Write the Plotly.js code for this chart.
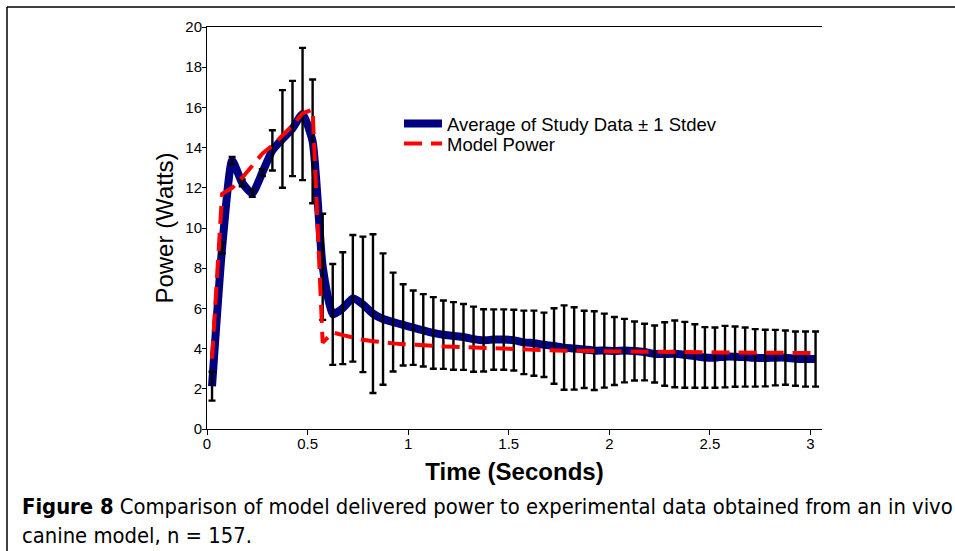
<!DOCTYPE html>
<html>
<head>
<meta charset="utf-8">
<script src="https://cdn.plot.ly/plotly-3.0.1.min.js"></script>
<style>
  html, body { margin: 0; padding: 0; background: #fff; }
  #chart { width: 955px; height: 551px; }
</style>
</head>
<body>
<div id="chart"></div>
<script>
// Time (seconds) of each sample
const timeSec = [0.025, 0.075, 0.125, 0.175, 0.225, 0.275, 0.325, 0.375, 0.425, 0.475,
  0.525, 0.575, 0.625, 0.675, 0.725, 0.775, 0.825, 0.875, 0.925, 0.975,
  1.025, 1.075, 1.125, 1.175, 1.225, 1.275, 1.325, 1.375, 1.425, 1.475,
  1.525, 1.575, 1.625, 1.675, 1.725, 1.775, 1.825, 1.875, 1.925, 1.975,
  2.025, 2.075, 2.125, 2.175, 2.225, 2.275, 2.325, 2.375, 2.425, 2.475,
  2.525, 2.575, 2.625, 2.675, 2.725, 2.775, 2.825, 2.875, 2.925, 2.975, 3.025];

// Average of study data (Watts)
const studyMean = [2.13, 9.0, 13.36, 12.25, 11.72, 12.76, 13.86, 14.43, 14.95, 15.67,
  14.31, 8.07, 5.70, 6.01, 6.50, 6.20, 5.74, 5.47, 5.32, 5.18,
  5.04, 4.91, 4.78, 4.69, 4.63, 4.58, 4.47, 4.41, 4.45, 4.45,
  4.42, 4.31, 4.27, 4.19, 4.13, 4.05, 4.01, 3.96, 3.90, 3.90,
  3.88, 3.90, 3.88, 3.83, 3.73, 3.73, 3.74, 3.69, 3.63, 3.56,
  3.55, 3.60, 3.60, 3.58, 3.54, 3.53, 3.55, 3.55, 3.50, 3.48, 3.48];

// ± 1 standard deviation (Watts)
const studyStdev = [0.72, 0.27, 0.18, 0.17, 0.17, 0.17, 1.00, 2.43, 2.37, 3.29,
  3.08, 2.64, 2.51, 2.78, 3.15, 3.37, 3.95, 3.27, 2.46, 2.02,
  1.85, 1.80, 1.78, 1.70, 1.68, 1.64, 1.62, 1.55, 1.50, 1.50,
  1.51, 1.58, 1.62, 1.60, 1.88, 2.10, 2.05, 1.92, 1.96, 1.84,
  1.69, 1.58, 1.47, 1.41, 1.42, 1.58, 1.66, 1.64, 1.58, 1.51,
  1.50, 1.53, 1.50, 1.47, 1.43, 1.41, 1.38, 1.35, 1.35, 1.37, 1.37];

// Model power (Watts)
const modelPower = [3.50, 11.70, 12.00, 12.50, 13.10, 13.70, 14.10, 14.60, 15.10, 15.70,
  15.90, 4.30, 4.80, 4.67, 4.54, 4.44, 4.37, 4.30, 4.26, 4.22,
  4.18, 4.16, 4.14, 4.11, 4.09, 4.07, 4.05, 4.02, 3.99, 3.99,
  3.96, 3.93, 3.92, 3.91, 3.89, 3.89, 3.89, 3.87, 3.86, 3.86,
  3.86, 3.86, 3.86, 3.86, 3.86, 3.84, 3.83, 3.83, 3.83, 3.82,
  3.81, 3.81, 3.81, 3.79, 3.78, 3.78, 3.78, 3.78, 3.78, 3.78, 3.78];

const seriesNames = ['Average of Study Data \u00b1 1 Stdev', 'Model Power'];
const xTitle = 'Time (Seconds)';
const yTitle = 'Power (Watts)';
const captionLine1 = '<b>Figure 8</b> Comparison of model delivered power to experimental data obtained from an in vivo';
const captionLine2 = 'canine model, n = 157.';

const FONT = 'Liberation Sans, Arial, sans-serif';
const CAP_FONT = 'Liberation Sans Narrow, DejaVu Sans Condensed, Open Sans, sans-serif';

const traces = [
  {
    x: timeSec, y: studyMean, type: 'scatter', mode: 'lines',
    name: seriesNames[0], legend: 'legend',
    line: { color: '#000080', width: 8, shape: 'spline', smoothing: 0.5 },
    hoverinfo: 'skip'
  },
  {
    x: timeSec, y: studyMean, type: 'scatter', mode: 'markers',
    showlegend: false,
    marker: { size: 1, opacity: 0 },
    error_y: { type: 'data', array: studyStdev, visible: true, color: '#000000', thickness: 2.4, width: 3.5 },
    hoverinfo: 'skip'
  },
  {
    x: timeSec, y: modelPower, type: 'scatter', mode: 'lines',
    name: seriesNames[1], legend: 'legend2',
    line: { color: '#ff0000', width: 4, dash: '18px,9px' },
    hoverinfo: 'skip'
  }
];

// plot area pixels: left 207, right 822, top 27, bottom 429
const L = 207, R = 822, T = 27, B = 429, W = 955, H = 551;
const px = v => (v - L) / (R - L);
const py = v => (B - v) / (B - T);

const legendBase = {
  xanchor: 'left', yanchor: 'top',
  bgcolor: 'rgba(0,0,0,0)', borderwidth: 0,
  font: { family: FONT, size: 18.5, color: '#000' },
  itemwidth: 38, tracegroupgap: 0
};

const layout = {
  width: W, height: H,
  margin: { l: L, r: W - R, t: T, b: H - B, pad: 0 },
  paper_bgcolor: '#ffffff', plot_bgcolor: '#ffffff',
  font: { family: FONT, color: '#000' },
  showlegend: true,
  legend: Object.assign({}, legendBase, { x: px(399), y: py(105) }),
  legend2: Object.assign({}, legendBase, { x: px(399), y: py(125) }),
  xaxis: {
    range: [0, 3.057], dtick: 0.5, tick0: 0,
    showgrid: false, zeroline: false,
    showline: true, linecolor: '#000', linewidth: 1, mirror: true,
    ticks: 'outside', ticklen: 5, tickcolor: '#000', tickwidth: 1,
    ticklabelstandoff: -4,
    tickfont: { family: FONT, size: 15, color: '#000' },
    title: { text: '<b>' + xTitle + '</b>', font: { family: FONT, size: 24, color: '#000' }, standoff: 12 },
    automargin: false, fixedrange: true
  },
  yaxis: {
    range: [0, 20], dtick: 2, tick0: 0,
    showgrid: false, zeroline: false,
    showline: true, linecolor: '#000', linewidth: 1,
    ticks: 'outside', ticklen: 4, tickcolor: '#000', tickwidth: 1,
    ticklabelstandoff: -3,
    tickfont: { family: FONT, size: 15, color: '#000' },
    title: { text: yTitle, font: { family: FONT, size: 24, color: '#000' }, standoff: 4 },
    automargin: false, fixedrange: true
  },
  shapes: [
    { type: 'line', xref: 'paper', yref: 'paper', x0: px(7), x1: px(960), y0: py(7), y1: py(7), line: { color: '#000', width: 1.5 } },
    { type: 'line', xref: 'paper', yref: 'paper', x0: px(7), x1: px(7), y0: py(7), y1: py(560), line: { color: '#000', width: 1.5 } }
  ],
  annotations: [
    { xref: 'paper', yref: 'paper', x: px(20), y: py(506), xanchor: 'left', yanchor: 'middle',
      text: captionLine1, showarrow: false, font: { family: CAP_FONT, size: 21.8, color: '#000' } },
    { xref: 'paper', yref: 'paper', x: px(20), y: py(535), xanchor: 'left', yanchor: 'middle',
      text: captionLine2, showarrow: false, font: { family: CAP_FONT, size: 21.8, color: '#000' } }
  ]
};

Plotly.newPlot('chart', traces, layout, { staticPlot: true, displayModeBar: false });
</script>
</body>
</html>
